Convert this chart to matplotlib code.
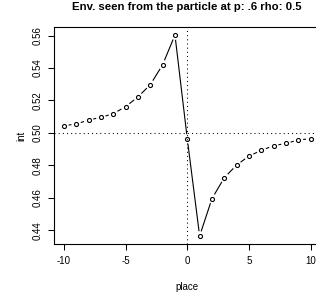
import numpy as np
import matplotlib
matplotlib.use("Agg")
import matplotlib.pyplot as plt

place = list(range(-10, 11))
int_vals = [0.5045, 0.5055, 0.5080, 0.5096, 0.5119, 0.5162, 0.5222, 0.5297, 0.5420, 0.5603,
            0.4963,
            0.4366, 0.4596, 0.4725, 0.4803, 0.4858, 0.4893, 0.4922, 0.4936, 0.4957, 0.4965]
xticks = [-10, -5, 0, 5, 10]
yticks = [0.44, 0.46, 0.48, 0.50, 0.52, 0.54, 0.56]
title = "Env. seen from the particle at p: .6 rho: 0.5"

plt.rcParams['font.family'] = ['Liberation Sans', 'DejaVu Sans']

fig = plt.figure(figsize=(3.16, 3.0), dpi=100)
ax = fig.add_axes([54/316, 1-244/300, (320.6-54)/316, (244-27)/300])

x = np.array(place, dtype=float)
y = np.array(int_vals, dtype=float)
rng = x.max() - x.min()
ax.set_xlim(x.min() - 0.04*rng, x.max() + 0.04*rng)
yr = y.max() - y.min()
ax.set_ylim(y.min() - 0.04*yr, y.max() + 0.04*yr)

# reference lines
ax.axhline(0.5, color='black', lw=0.75, linestyle=(0, (1, 3)))
ax.axvline(0, color='black', lw=0.75, linestyle=(0, (1, 3)))

# points
ax.plot(x, y, linestyle='none', marker='o', markersize=2.9, markerfacecolor='none',
        markeredgecolor='black', markeredgewidth=0.8)

# type="b" line segments with gaps
fig.canvas.draw()
pts = ax.transData.transform(np.column_stack([x, y]))
gap = 4.8  # pixels
inv = ax.transData.inverted()
for i in range(len(pts)-1):
    p0, p1 = pts[i], pts[i+1]
    d = p1 - p0
    L = np.hypot(*d)
    if L <= 2*gap:
        continue
    u = d / L
    a = p0 + u*gap
    b = p1 - u*gap
    da = inv.transform([a, b])
    ax.plot(da[:, 0], da[:, 1], color='black', lw=0.8, solid_capstyle='butt')

ax.set_xticks(xticks)
ax.set_xticklabels([str(t) for t in xticks])
ax.set_yticks(yticks)
ax.set_yticklabels([f"{t:.2f}" for t in yticks], rotation=90, va='center')
ax.tick_params(direction='out', length=4.5, width=0.75, labelsize=7, pad=4)
for s in ax.spines.values():
    s.set_linewidth(0.8)

ax.set_xlabel("place", fontsize=7, labelpad=12)
ax.set_ylabel("int", fontsize=7, labelpad=4.5)
fig.text(187/316, 1-7/300, title, ha='center', va='center', fontsize=8.2, fontweight='bold')

fig.savefig("out.png", dpi=100)
